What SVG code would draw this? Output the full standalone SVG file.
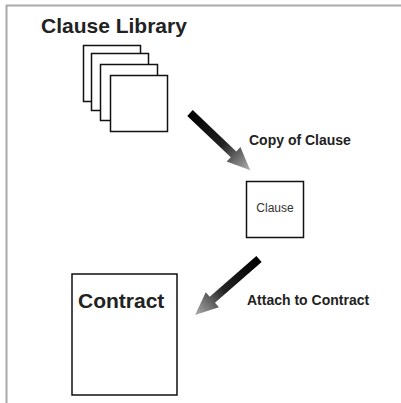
<svg xmlns="http://www.w3.org/2000/svg" width="401" height="403" viewBox="0 0 401 403">
<defs>
<style>
.box{fill:#fff;stroke:#111;stroke-width:1.5}
.title{font-family:"Liberation Sans",Arial,sans-serif;font-weight:bold;fill:#222}
.lbl{font-family:"Liberation Sans",Arial,sans-serif;font-weight:bold;font-size:14px;fill:#222}
.small{font-family:"Liberation Sans",Arial,sans-serif;font-size:12px;fill:#333}
</style>
<linearGradient id="ag" x1="0" y1="0" x2="1" y2="0">
<stop offset="0" stop-color="#000"/>
<stop offset="0.55" stop-color="#222"/>
<stop offset="1" stop-color="#b0b0b0"/>
</linearGradient>
</defs>
<rect width="401" height="403" fill="#fff"/>
<path d="M6.5,403 V5.5 H401" fill="none" stroke="#aaa" stroke-width="2"/>
<g id="clause-library">
<text class="title" x="41" y="33" font-size="21">Clause Library</text>
<rect class="box" x="83.5" y="45.5" width="57" height="56"/>
<rect class="box" x="91.5" y="53.5" width="57" height="57"/>
<rect class="box" x="100.5" y="64.5" width="57" height="56"/>
<rect class="box" x="110.5" y="75.5" width="57" height="56"/>
</g>
<g id="clause">
<rect class="box" x="246.5" y="181.5" width="57" height="56"/>
<text class="small" x="275" y="212" text-anchor="middle">Clause</text>
</g>
<g id="contract">
<rect class="box" x="72" y="274" width="105" height="121"/>
<text class="title" x="78" y="308" font-size="21">Contract</text>
</g>
<g id="connectors">
<path transform="translate(190,113) rotate(43.5)" fill="url(#ag)" d="M0,-4 L60,-4 L60,-10 L83,0 L60,10 L60,4 L0,4 Z"/>
<path transform="translate(259,259) rotate(138.8)" fill="url(#ag)" d="M0,-4 L62,-4 L62,-10 L85,0 L62,10 L62,4 L0,4 Z"/>
<text class="lbl" x="249" y="145">Copy of Clause</text>
<text class="lbl" x="247" y="305">Attach to Contract</text>
</g>
</svg>
